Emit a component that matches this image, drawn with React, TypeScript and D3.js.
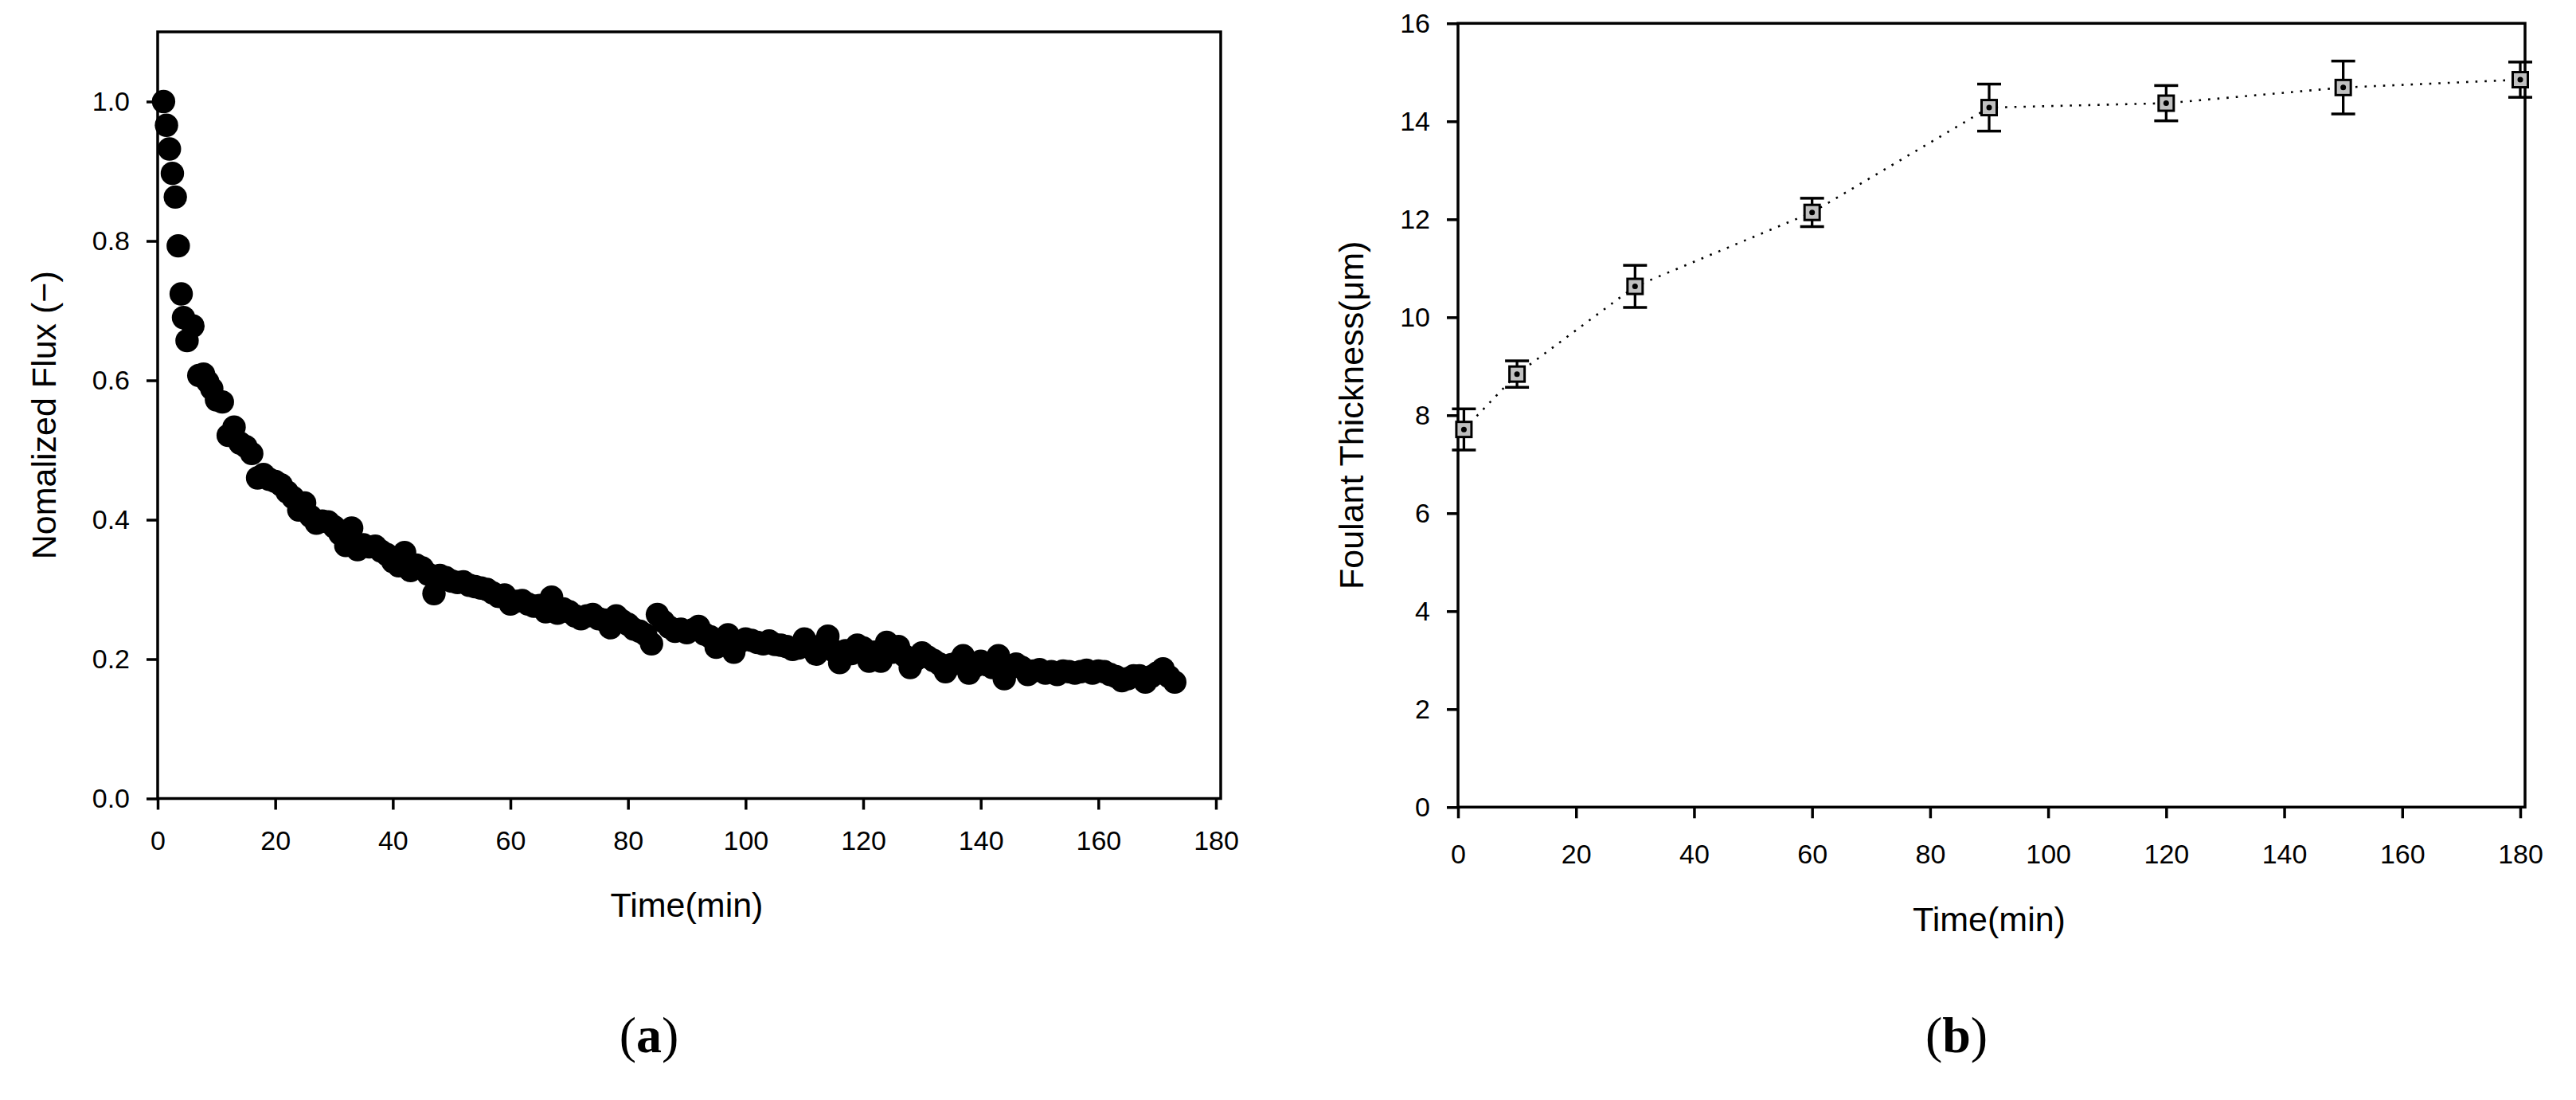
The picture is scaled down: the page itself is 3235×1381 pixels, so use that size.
import React, { useEffect, useRef } from 'react';
import * as d3 from 'd3';

// (a) normalized flux as [time(min), flux]
const fluxData = [
  [1.0, 1.0], [1.5, 0.966], [2.0, 0.932], [2.5, 0.897], [3.0, 0.863], [3.5, 0.793],
  [4.0, 0.724], [4.4, 0.69], [5.0, 0.657], [6.0, 0.678], [7.0, 0.607], [7.8, 0.609],
  [8.5, 0.598], [9.2, 0.588], [10, 0.572], [11, 0.569], [12, 0.521], [13, 0.533],
  [14, 0.51], [15, 0.505], [16, 0.495], [17, 0.46], [18, 0.465], [19, 0.458],
  [20, 0.455], [21, 0.45], [22, 0.44], [23, 0.432], [24, 0.414], [25, 0.424],
  [26, 0.405], [27, 0.395], [28, 0.398], [29, 0.397], [30, 0.39], [31, 0.38],
  [32, 0.363], [33, 0.388], [34, 0.357], [35, 0.364], [36, 0.361], [37, 0.362],
  [38, 0.355], [39, 0.35], [40, 0.34], [41, 0.334], [42, 0.353], [43, 0.327],
  [44, 0.335], [45, 0.331], [46, 0.322], [47, 0.294], [48, 0.32], [49, 0.317],
  [50, 0.312], [51, 0.31], [52, 0.311], [53, 0.306], [54, 0.304], [55, 0.302],
  [56, 0.3], [57, 0.295], [58, 0.29], [59, 0.292], [60, 0.279], [61, 0.283],
  [62, 0.284], [63, 0.279], [64, 0.276], [65, 0.277], [66, 0.268], [67, 0.289],
  [68, 0.266], [69, 0.272], [70, 0.268], [71, 0.262], [72, 0.258], [73, 0.262],
  [74, 0.264], [75, 0.258], [76, 0.256], [77, 0.245], [78, 0.262], [79, 0.255],
  [80, 0.25], [81, 0.243], [82, 0.24], [83, 0.235], [84, 0.222], [85, 0.264],
  [86, 0.254], [87, 0.246], [88, 0.24], [89, 0.243], [90, 0.238], [91, 0.242],
  [92, 0.247], [93, 0.236], [94, 0.232], [95, 0.217], [96, 0.228], [97, 0.235],
  [98, 0.21], [99, 0.225], [100, 0.229], [101, 0.227], [102, 0.224], [103, 0.222],
  [104, 0.226], [105, 0.221], [106, 0.22], [107, 0.218], [108, 0.214], [109, 0.216],
  [110, 0.229], [111, 0.218], [112, 0.207], [113, 0.22], [114, 0.233], [115, 0.212],
  [116, 0.195], [117, 0.212], [118, 0.208], [119, 0.22], [120, 0.216], [121, 0.197],
  [122, 0.21], [123, 0.197], [124, 0.224], [125, 0.21], [126, 0.218], [127, 0.205],
  [128, 0.188], [129, 0.2], [130, 0.209], [131, 0.203], [132, 0.198], [133, 0.193],
  [134, 0.182], [135, 0.192], [136, 0.195], [137, 0.205], [138, 0.18], [139, 0.19],
  [140, 0.197], [141, 0.192], [142, 0.188], [143, 0.205], [144, 0.172], [145, 0.188],
  [146, 0.193], [147, 0.188], [148, 0.178], [149, 0.183], [150, 0.185], [151, 0.18],
  [152, 0.182], [153, 0.178], [154, 0.183], [155, 0.182], [156, 0.18], [157, 0.182],
  [158, 0.184], [159, 0.18], [160, 0.183], [161, 0.182], [162, 0.178], [163, 0.175],
  [164, 0.169], [165, 0.172], [166, 0.176], [167, 0.176], [168, 0.167], [169, 0.175],
  [170, 0.18], [171, 0.186], [172, 0.175], [173, 0.167],
];

// (b) foulant thickness with error bars
const thickTime = [1, 10, 30, 60, 90, 120, 150, 180];
const thickValue = [7.71, 8.84, 10.63, 12.14, 14.28, 14.37, 14.69, 14.85];
const thickErr = [0.42, 0.27, 0.43, 0.29, 0.48, 0.36, 0.54, 0.36];

const timeTicks = [0, 20, 40, 60, 80, 100, 120, 140, 160, 180];
const fluxTicks = [0, 0.2, 0.4, 0.6, 0.8, 1.0];
const thickTicks = [0, 2, 4, 6, 8, 10, 12, 14, 16];

const FONT = "'Liberation Sans', Arial, sans-serif";
const SERIF = "'Liberation Serif', 'Times New Roman', serif";

function drawFrame(svg, x, y, opts) {
  const g = svg.append('g');
  const [x0, x1] = x.domain();
  const [y0, y1] = y.domain();
  const left = x(x0), right = x(x1) + 6, top = y(y1), bottom = y(y0);

  g.append('rect')
    .attr('x', left).attr('y', top)
    .attr('width', right - left).attr('height', bottom - top)
    .attr('fill', 'none').attr('stroke', '#000').attr('stroke-width', 3.5);

  g.append('g')
    .attr('transform', `translate(0,${bottom})`)
    .call(d3.axisBottom(x).tickValues(timeTicks).tickSize(14).tickPadding(opts.xPad))
    .call(a => a.select('.domain').remove())
    .call(a => a.selectAll('line').attr('stroke-width', 3.5))
    .attr('font-family', FONT).attr('font-size', 34);

  g.append('g')
    .attr('transform', `translate(${left},0)`)
    .call(d3.axisLeft(y).tickValues(opts.yTicks).tickFormat(opts.yFormat).tickSize(14).tickPadding(21))
    .call(a => a.select('.domain').remove())
    .call(a => a.selectAll('line').attr('stroke-width', 3.5))
    .attr('font-family', FONT).attr('font-size', 34);

  g.append('text')
    .attr('x', (left + x(x1)) / 2).attr('y', bottom + opts.xTitleOff)
    .attr('text-anchor', 'middle')
    .attr('font-family', FONT).attr('font-size', 43)
    .text('Time(min)');

  g.append('text')
    .attr('transform', `translate(${left - opts.yTitleOff},${(top + bottom) / 2}) rotate(-90)`)
    .attr('text-anchor', 'middle')
    .attr('font-family', FONT).attr('font-size', 43)
    .text(opts.yTitle);

  const cap = g.append('text')
    .attr('x', opts.capX).attr('y', 1321)
    .attr('text-anchor', 'middle')
    .attr('font-family', SERIF).attr('font-size', 64);
  cap.append('tspan').text('(');
  cap.append('tspan').attr('font-weight', 'bold').text(opts.cap);
  cap.append('tspan').text(')');
}

export default function App() {
  const svgRef = useRef(null);

  useEffect(() => {
    const svg = d3.select(svgRef.current);
    svg.selectAll('*').remove();

    // panel (a)
    const xa = d3.scaleLinear().domain([0, 180]).range([198, 1527]);
    const ya = d3.scaleLinear().domain([0, 1.1]).range([1002.5, 40]);

    drawFrame(svg, xa, ya, {
      yTicks: fluxTicks, yFormat: d3.format('.1f'), xPad: 26,
      xTitleOff: 148, yTitleOff: 128, yTitle: 'Nomalized Flux (\u2212)',
      capX: 815, cap: 'a',
    });

    svg.append('g')
      .selectAll('circle')
      .data(fluxData)
      .enter()
      .append('circle')
      .attr('cx', d => xa(d[0]))
      .attr('cy', d => ya(d[1]))
      .attr('r', 14.7)
      .attr('fill', '#000');

    // panel (b)
    const xb = d3.scaleLinear().domain([0, 180]).range([1831, 3165]);
    const yb = d3.scaleLinear().domain([0, 16]).range([1013.3, 29.3]);

    drawFrame(svg, xb, yb, {
      yTicks: thickTicks, yFormat: d3.format('d'), xPad: 33,
      xTitleOff: 156, yTitleOff: 119, yTitle: 'Foulant Thickness(\u03bcm)',
      capX: 2457, cap: 'b',
    });

    const pts = thickTime.map((t, i) => ({ t, v: thickValue[i], e: thickErr[i] }));

    const line = d3.line().x(d => xb(d.t)).y(d => yb(d.v));
    svg.append('path')
      .datum(pts)
      .attr('d', line)
      .attr('fill', 'none')
      .attr('stroke', '#000')
      .attr('stroke-width', 2.6)
      .attr('stroke-dasharray', '2.6 9');

    const mk = svg.append('g').selectAll('g').data(pts).enter().append('g');

    mk.append('line')
      .attr('x1', d => xb(d.t)).attr('x2', d => xb(d.t))
      .attr('y1', d => yb(d.v + d.e)).attr('y2', d => yb(d.v - d.e))
      .attr('stroke', '#000').attr('stroke-width', 3.3);
    [1, -1].forEach(s => {
      mk.append('line')
        .attr('x1', d => xb(d.t) - 15).attr('x2', d => xb(d.t) + 15)
        .attr('y1', d => yb(d.v + s * d.e)).attr('y2', d => yb(d.v + s * d.e))
        .attr('stroke', '#000').attr('stroke-width', 3.5);
    });
    mk.append('rect')
      .attr('x', d => xb(d.t) - 9.5).attr('y', d => yb(d.v) - 9.5)
      .attr('width', 19).attr('height', 19)
      .attr('fill', '#c0c0c0').attr('stroke', '#000').attr('stroke-width', 3);
    mk.append('circle')
      .attr('cx', d => xb(d.t)).attr('cy', d => yb(d.v))
      .attr('r', 3.5).attr('fill', '#000');
  }, []);

  return (
    <svg
      ref={svgRef}
      width={3235}
      height={1381}
      style={{ position: 'absolute', left: 0, top: 0, background: '#fff' }}
    />
  );
}
